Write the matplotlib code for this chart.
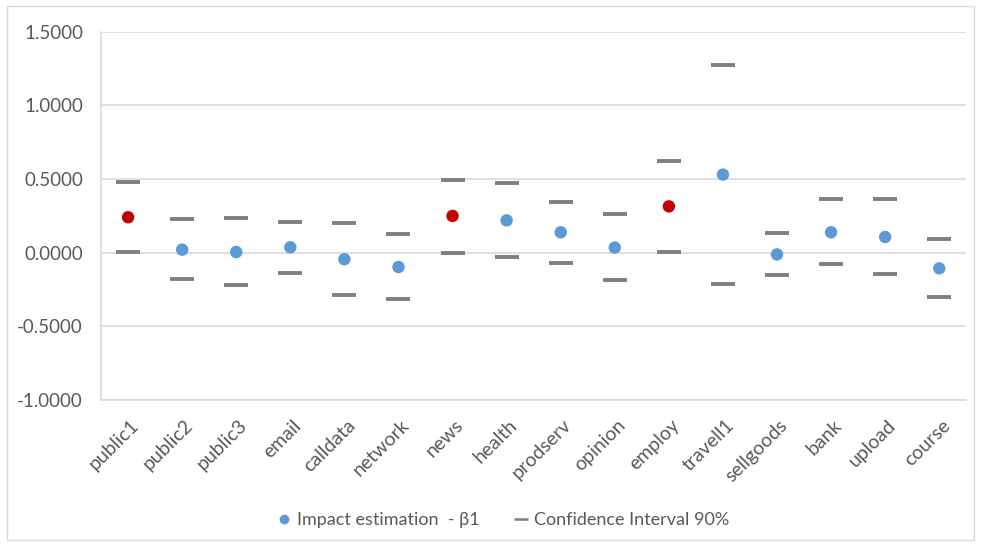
import matplotlib
matplotlib.use("Agg")
import matplotlib.pyplot as plt
from matplotlib.lines import Line2D
from matplotlib.patches import Rectangle
from matplotlib.transforms import ScaledTranslation

plt.rcParams['font.family'] = ['Lato', 'DejaVu Sans']

categories = ["public1", "public2", "public3", "email", "calldata", "network", "news",
              "health", "prodserv", "opinion", "employ", "travell1", "sellgoods", "bank",
              "upload", "course"]
estimate = [0.240, 0.020, 0.004, 0.036, -0.045, -0.098, 0.249, 0.219, 0.138, 0.034,
            0.314, 0.530, -0.012, 0.138, 0.106, -0.107]
ci_upper = [0.479, 0.228, 0.238, 0.208, 0.199, 0.124, 0.496, 0.473, 0.346, 0.265,
            0.620, 1.272, 0.131, 0.362, 0.362, 0.095]
ci_lower = [0.007, -0.177, -0.222, -0.140, -0.288, -0.317, 0.000, -0.032, -0.068, -0.186,
            0.002, -0.215, -0.149, -0.075, -0.143, -0.303]
significant = ["public1", "news", "employ"]
yticks = [-1.0, -0.5, 0.0, 0.5, 1.0, 1.5]

blue = "#5B9BD5"
red = "#C00000"
gray = "#7F7F7F"
grid = "#D9D9D9"
text = "#595959"

fig = plt.figure(figsize=(9.81, 5.47), dpi=100)
ax = fig.add_axes([0.103, 0.269, 0.882, 0.673])
fig.patches.append(Rectangle((0.007, 0.012), 0.986, 0.977, transform=fig.transFigure,
                             fill=False, edgecolor="#D9D9D9", linewidth=1.0))

x = list(range(len(categories)))
colors = [red if c in significant else blue for c in categories]

ax.scatter(x, estimate, s=80, c=colors, zorder=3, linewidths=0)
ax.plot(x, ci_upper, linestyle="none", marker="_", markersize=17, markeredgewidth=2.8,
        color=gray, zorder=3)
ax.plot(x, ci_lower, linestyle="none", marker="_", markersize=17, markeredgewidth=2.8,
        color=gray, zorder=3)

ax.set_xlim(-0.5, len(categories) - 0.5)
ax.set_ylim(-1.0, 1.5)
ax.set_yticks(yticks)
ax.set_yticklabels([f"{v:.4f}" for v in yticks])
ax.yaxis.grid(True, color=grid, linewidth=1.2, zorder=0)
ax.set_axisbelow(True)
for s in ["top", "right"]:
    ax.spines[s].set_visible(False)
ax.spines["left"].set_color(grid)
ax.spines["bottom"].set_color(grid)
ax.spines["left"].set_linewidth(1.2)
ax.spines["bottom"].set_linewidth(1.2)
ax.tick_params(axis="both", length=0, colors=text)
ax.tick_params(axis="y", pad=13, labelsize=13.5)
ax.set_xticks(x)
ax.set_xticklabels(categories, rotation=45, ha="right", rotation_mode="anchor", fontsize=14)
ax.tick_params(axis="x", pad=12)
off = ScaledTranslation(2 / 100, 0, fig.dpi_scale_trans)
for lab in ax.get_xticklabels():
    lab.set_transform(lab.get_transform() + off)

handles = [
    Line2D([], [], linestyle="none", marker="o", markersize=7, color=blue, markeredgewidth=0),
    Line2D([], [], linestyle="none", marker="_", markersize=10, markeredgewidth=1.8, color=gray),
]
fig.legend(handles, ["Impact estimation  - \u03b21", "Confidence Interval 90%"],
           loc="center", bbox_to_anchor=(0.512, 0.049), ncol=2, frameon=False,
           fontsize=13, labelcolor=text, handletextpad=0.2, columnspacing=1.8,
           handlelength=1.0)

fig.savefig("out.png", dpi=100, facecolor="white")
